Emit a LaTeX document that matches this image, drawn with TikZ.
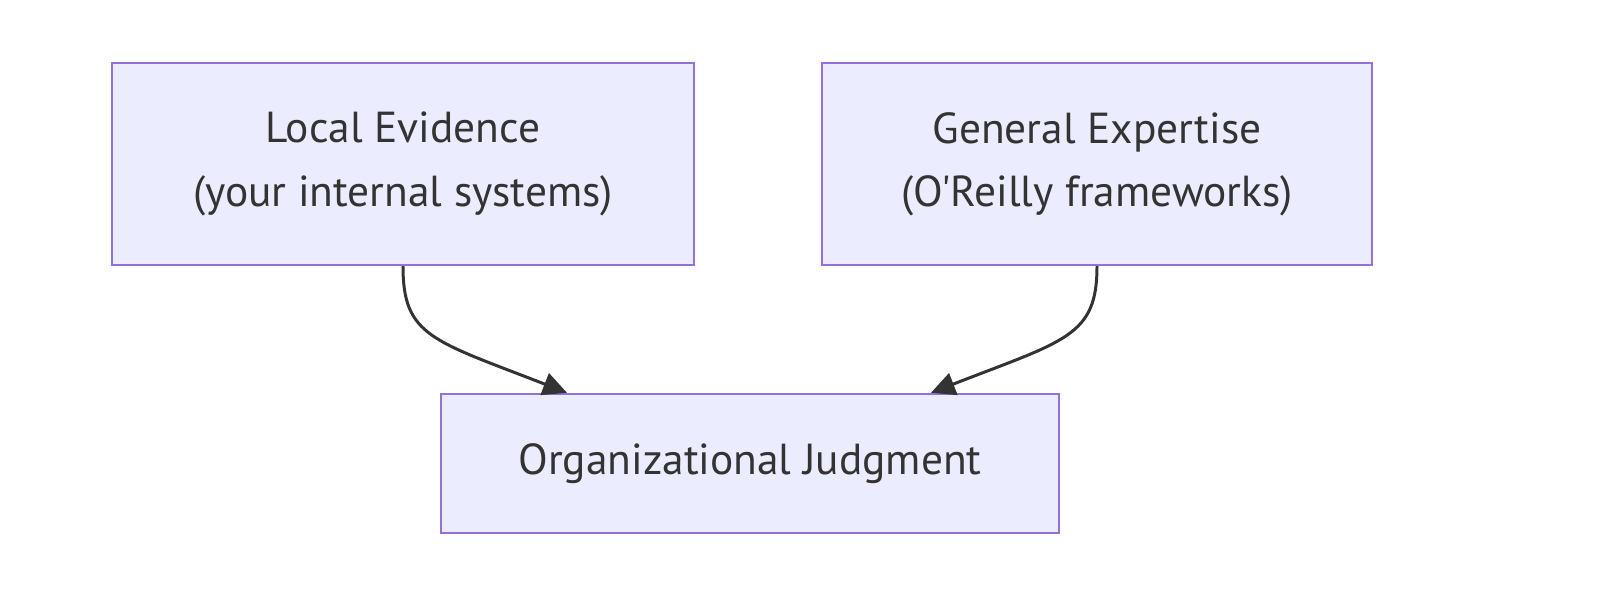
\documentclass[tikz,border=0pt]{standalone}
\usepackage{fontspec}
\newfontfamily\labelfont{PT Sans}
\usepackage{tikz}
\usetikzlibrary{arrows.meta,positioning,calc}
\definecolor{boxfill}{HTML}{ECECFF}
\definecolor{boxline}{HTML}{9370DB}
\definecolor{inkgray}{HTML}{333333}

\begin{document}
\begin{tikzpicture}[font=\labelfont\fontsize{24.7}{36}\selectfont,
		box/.style={draw=boxline,fill=boxfill,line width=1.4pt,text=inkgray,align=center,inner sep=0pt},
		flow/.style={draw=inkgray,line width=1.7pt,-{Triangle[length=0.48cm,width=0.46cm]}}]
			\useasboundingbox (0,0) rectangle (32,-12.22);
			\node[box,minimum width=11.64cm,minimum height=4.04cm] (local) at (8.06,-3.28) {Local Evidence\\(your internal systems)};
			\node[box,minimum width=11.0cm,minimum height=4.04cm] (general) at (21.94,-3.28) {General Expertise\\(O'Reilly frameworks)};
			\node[box,minimum width=12.36cm,minimum height=2.78cm] (judgment) at (15.0,-9.27) {Organizational Judgment};
			\draw[flow] (local.south) .. controls ($(local.south)+(0,-1.4)$) and ($([xshift=-3.66cm]judgment.north)+(-2.7,1.05)$) .. ([xshift=-3.66cm]judgment.north);
			\draw[flow] (general.south) .. controls ($(general.south)+(0,-1.4)$) and ($([xshift=3.62cm]judgment.north)+(2.7,1.05)$) .. ([xshift=3.62cm]judgment.north);
		\end{tikzpicture}
\end{document}
